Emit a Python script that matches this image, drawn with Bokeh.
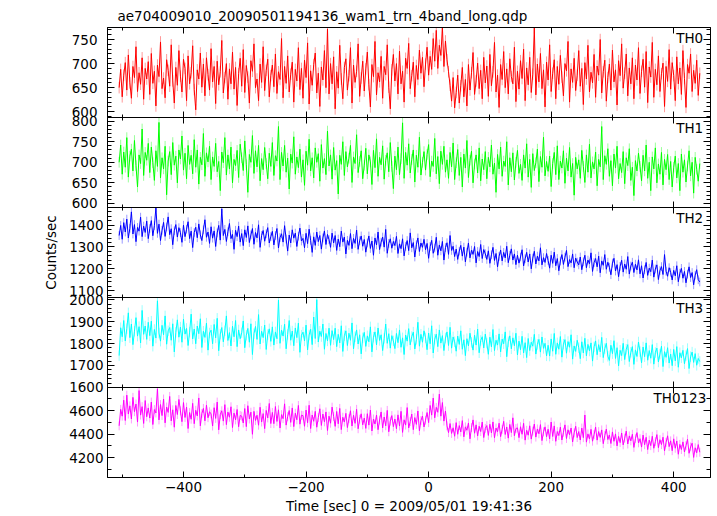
import numpy as np
from bokeh.plotting import figure
from bokeh.layouts import column
from bokeh.models import LinearAxis, Range1d, Label, FixedTicker, CustomLabelingPolicy
from bokeh.embed import file_html
from bokeh.resources import INLINE

# ---- data (2.5 s bins starting at -505 s) ----
time_start = -505
time_step = 2.5

th0 = [650, 688, 631, 676, 702, 645, 718, 660, 628, 694, 671, 735, 642, 681, 657, 712, 626, 690, 668, 704,
       636, 721, 659, 684, 612, 697, 673, 745, 648, 670, 629, 708, 686, 653, 739, 664, 618, 692, 655, 727,
       674, 641, 709, 690, 623, 716, 658, 681, 737, 646, 604, 687, 668, 722, 651, 699, 633, 712, 677, 645,
       731, 662, 694, 617, 705, 656, 683, 748, 639, 671, 700, 626, 689, 658, 724, 647, 692, 613, 679, 711,
       653, 729, 640, 696, 672, 618, 706, 684, 741, 650, 668, 623, 699, 661, 735, 644, 686, 709, 631, 675,
       697, 652, 720, 638, 683, 667, 752, 629, 694, 659, 716, 641, 678, 703, 620, 688, 664, 733, 646, 690,
       628, 707, 671, 743, 616, 685, 655, 698, 722, 639, 680, 611, 693, 666, 727, 650, 772, 637, 700, 658,
       714, 606, 683, 649, 738, 668, 627, 692, 710, 645, 675, 733, 618, 697, 661, 684, 741, 632, 670, 705,
       643, 689, 724, 656, 610, 698, 673, 746, 635, 681, 662, 715, 628, 694, 677, 739, 651, 606, 687, 719,
       664, 700, 637, 726, 658, 684, 620, 711, 690, 742, 648, 675, 703, 631, 696, 667, 728, 680, 713, 652,
       699, 734, 676, 715, 688, 752, 705, 769, 690, 738, 717, 776, 694, 747, 708, 683, 655, 622, 671, 608,
       640, 676, 618, 654, 692, 631, 667, 612, 698, 645, 681, 723, 636, 664, 701, 648, 686, 627, 713, 660,
       695, 632, 719, 654, 683, 744, 641, 676, 609, 698, 667, 725, 650, 689, 637, 710, 673, 658, 734, 621,
       684, 647, 706, 669, 730, 623, 691, 656, 713, 640, 678, 774, 635, 699, 662, 721, 648, 687, 610, 703,
       666, 739, 642, 680, 708, 627, 694, 657, 717, 672, 633, 700, 685, 746, 620, 689, 661, 711, 644, 676,
       727, 653, 690, 615, 702, 668, 738, 641, 682, 660, 719, 630, 695, 676, 750, 639, 683, 707, 622, 671,
       699, 645, 728, 662, 687, 614, 706, 675, 741, 649, 680, 720, 633, 691, 658, 712, 627, 697, 666, 733,
       638, 684, 709, 651, 725, 619, 693, 672, 744, 630, 688, 656, 716, 642, 679, 701, 611, 694, 663, 729,
       647, 702, 675, 623, 714, 658, 691, 636, 727, 669, 609, 698, 680, 720, 642, 686, 659, 707, 634, 680]

th1 = [700, 742, 671, 725, 688, 760, 664, 715, 732, 679, 753, 692, 640, 718, 697, 781, 668, 724, 705, 746,
       675, 737, 699, 656, 728, 690, 797, 662, 711, 684, 739, 621, 703, 726, 670, 748, 693, 715, 650, 730,
       708, 764, 681, 722, 660, 741, 695, 717, 672, 755, 688, 730, 647, 712, 694, 770, 666, 723, 701, 739,
       658, 713, 690, 746, 677, 702, 631, 725, 699, 760, 669, 718, 684, 737, 650, 707, 692, 729, 663, 744,
       711, 680, 752, 694, 627, 719, 700, 765, 673, 728, 689, 741, 655, 709, 682, 736, 697, 660, 722, 690,
       748, 668, 716, 703, 787, 658, 724, 691, 741, 676, 710, 635, 720, 698, 762, 671, 713, 687, 732, 664,
       706, 644, 727, 693, 756, 679, 711, 662, 735, 700, 721, 654, 743, 686, 709, 670, 776, 691, 718, 659,
       736, 681, 704, 623, 717, 695, 750, 668, 726, 689, 710, 741, 651, 713, 697, 767, 675, 702, 728, 660,
       693, 734, 672, 718, 701, 646, 729, 687, 757, 666, 712, 694, 740, 659, 705, 723, 677, 748, 690, 636,
       715, 682, 737, 670, 709, 796, 661, 724, 693, 745, 674, 707, 730, 652, 717, 688, 761, 669, 700, 726,
       681, 719, 743, 665, 703, 690, 758, 672, 714, 648, 727, 695, 739, 676, 706, 661, 724, 689, 747, 658,
       699, 731, 668, 712, 640, 720, 686, 753, 663, 705, 727, 650, 696, 718, 674, 735, 655, 708, 682, 726,
       660, 712, 689, 742, 671, 698, 627, 719, 684, 737, 666, 703, 690, 750, 645, 711, 677, 723, 657, 700,
       729, 673, 695, 656, 718, 686, 745, 664, 707, 639, 721, 680, 699, 732, 653, 714, 688, 761, 667, 702,
       678, 715, 641, 697, 724, 670, 740, 658, 703, 686, 728, 649, 710, 679, 736, 664, 697, 620, 712, 684,
       706, 661, 729, 690, 651, 718, 676, 744, 662, 701, 684, 725, 643, 707, 689, 787, 658, 716, 695, 733,
       666, 704, 643, 720, 686, 739, 660, 697, 675, 726, 648, 711, 692, 733, 656, 688, 619, 704, 679, 722,
       690, 655, 717, 679, 742, 661, 700, 631, 713, 684, 735, 650, 696, 671, 724, 645, 707, 682, 719, 658,
       702, 640, 688, 715, 662, 697, 631, 720, 676, 706, 652, 691, 728, 667, 700, 625, 712, 683, 654, 697]

th2 = [1352, 1398, 1335, 1411, 1368, 1427, 1341, 1385, 1460, 1359, 1402, 1324, 1389, 1372, 1436, 1347, 1395, 1366, 1418, 1338,
       1384, 1420, 1351, 1397, 1479, 1362, 1404, 1329, 1376, 1412, 1348, 1391, 1437, 1356, 1383, 1310, 1374, 1402, 1345, 1388,
       1365, 1321, 1399, 1347, 1381, 1415, 1338, 1372, 1297, 1366, 1390, 1342, 1405, 1355, 1329, 1378, 1424, 1344, 1368, 1316,
       1392, 1340, 1373, 1302, 1364, 1398, 1331, 1474, 1352, 1380, 1325, 1369, 1407, 1338, 1357, 1289, 1376, 1347, 1395, 1322,
       1361, 1306, 1378, 1343, 1396, 1320, 1355, 1384, 1312, 1366, 1341, 1401, 1298, 1352, 1375, 1326, 1360, 1388, 1318, 1347,
       1371, 1309, 1352, 1384, 1295, 1343, 1360, 1322, 1397, 1336, 1281, 1354, 1318, 1378, 1340, 1363, 1302, 1349, 1386, 1327,
       1339, 1296, 1362, 1315, 1381, 1330, 1275, 1346, 1307, 1368, 1324, 1352, 1290, 1341, 1373, 1311, 1357, 1333, 1298, 1363,
       1318, 1352, 1284, 1336, 1301, 1372, 1322, 1345, 1268, 1330, 1307, 1361, 1292, 1339, 1316, 1377, 1289, 1328, 1350, 1303,
       1334, 1276, 1318, 1350, 1293, 1327, 1262, 1341, 1309, 1368, 1288, 1322, 1345, 1299, 1380, 1271, 1316, 1337, 1294, 1325,
       1306, 1348, 1270, 1314, 1292, 1337, 1259, 1302, 1329, 1283, 1364, 1296, 1320, 1254, 1310, 1341, 1279, 1318, 1298, 1335,
       1287, 1316, 1248, 1302, 1330, 1271, 1295, 1344, 1262, 1309, 1282, 1325, 1240, 1297, 1319, 1266, 1352, 1284, 1303, 1256,
       1290, 1243, 1281, 1307, 1258, 1299, 1232, 1276, 1318, 1250, 1285, 1266, 1302, 1227, 1279, 1256, 1311, 1247, 1288, 1269,
       1243, 1282, 1225, 1264, 1298, 1238, 1270, 1209, 1257, 1286, 1236, 1275, 1250, 1303, 1228, 1262, 1291, 1240, 1268, 1219,
       1262, 1226, 1254, 1287, 1213, 1246, 1275, 1231, 1268, 1200, 1249, 1280, 1222, 1258, 1236, 1296, 1218, 1251, 1229, 1270,
       1238, 1203, 1262, 1225, 1276, 1214, 1247, 1191, 1236, 1265, 1220, 1253, 1284, 1210, 1242, 1227, 1268, 1205, 1249, 1231,
       1218, 1254, 1196, 1232, 1262, 1205, 1240, 1223, 1273, 1188, 1229, 1247, 1209, 1258, 1182, 1236, 1216, 1265, 1198, 1230,
       1207, 1173, 1226, 1248, 1190, 1219, 1164, 1211, 1239, 1185, 1222, 1198, 1256, 1176, 1213, 1230, 1183, 1221, 1195, 1241,
       1177, 1214, 1158, 1196, 1229, 1170, 1203, 1187, 1240, 1162, 1199, 1218, 1151, 1192, 1210, 1174, 1265, 1189, 1166, 1205,
       1184, 1149, 1193, 1168, 1214, 1141, 1180, 1202, 1157, 1188, 1136, 1176, 1209, 1160, 1183, 1127, 1171, 1196, 1150, 1140]

th3 = [1745, 1872, 1831, 1905, 1812, 1868, 1940, 1827, 1889, 1795, 1856, 1918, 1834, 1877, 1803, 1951, 1842, 1880, 1819, 1897,
       1836, 1902, 1788, 1864, 1825, 1995, 1848, 1811, 1883, 1840, 1926, 1797, 1858, 1873, 1815, 1890, 1762, 1851, 1908, 1829,
       1875, 1806, 1911, 1843, 1869, 1791, 1852, 1934, 1821, 1866, 1799, 1880, 1845, 1913, 1782, 1856, 1828, 1893, 1770, 1848,
       1861, 1799, 1887, 1826, 1915, 1767, 1843, 1873, 1808, 1858, 1926, 1814, 1850, 1789, 1879, 1831, 1905, 1786, 1862, 1822,
       1849, 1903, 1781, 1838, 1869, 1806, 1890, 1750, 1845, 1878, 1819, 1932, 1798, 1856, 1827, 1884, 1773, 1841, 1867, 1810,
       1876, 1793, 1853, 1822, 1998, 1801, 1861, 1834, 1888, 1776, 1842, 1905, 1815, 1857, 1790, 1871, 1827, 1893, 1760, 1838,
       1852, 1812, 1884, 1771, 1839, 1865, 1795, 1921, 1823, 2000, 1807, 1856, 1832, 1889, 1774, 1846, 1812, 1870, 1792, 1859,
       1818, 1870, 1786, 1842, 1803, 1881, 1764, 1836, 1858, 1791, 1847, 1815, 1894, 1776, 1831, 1862, 1798, 1840, 1753, 1826,
       1851, 1787, 1835, 1808, 1876, 1762, 1829, 1853, 1794, 1871, 1814, 1840, 1768, 1824, 1889, 1801, 1845, 1779, 1836, 1812,
       1777, 1846, 1804, 1862, 1783, 1826, 1750, 1839, 1811, 1868, 1794, 1832, 1852, 1775, 1819, 1897, 1788, 1842, 1806, 1858,
       1826, 1772, 1848, 1799, 1881, 1757, 1820, 1843, 1786, 1862, 1802, 1836, 1768, 1825, 1853, 1791, 1874, 1779, 1830, 1808,
       1765, 1834, 1796, 1858, 1774, 1817, 1745, 1822, 1789, 1847, 1805, 1770, 1838, 1793, 1866, 1758, 1814, 1831, 1780, 1843,
       1802, 1751, 1829, 1785, 1864, 1768, 1815, 1793, 1844, 1762, 1820, 1799, 1853, 1740, 1808, 1835, 1776, 1826, 1790, 1847,
       1748, 1811, 1772, 1833, 1757, 1804, 1736, 1823, 1768, 1806, 1788, 1842, 1752, 1796, 1819, 1761, 1830, 1778, 1801, 1744,
       1792, 1743, 1821, 1765, 1846, 1751, 1803, 1774, 1832, 1738, 1797, 1818, 1756, 1809, 1783, 1840, 1729, 1789, 1764, 1815,
       1781, 1731, 1808, 1757, 1824, 1744, 1796, 1766, 1803, 1720, 1785, 1812, 1749, 1795, 1762, 1828, 1736, 1777, 1801, 1742,
       1723, 1792, 1754, 1813, 1732, 1781, 1698, 1769, 1745, 1801, 1727, 1774, 1795, 1718, 1760, 1786, 1705, 1771, 1741, 1807,
       1763, 1712, 1784, 1740, 1803, 1724, 1768, 1733, 1795, 1706, 1759, 1779, 1716, 1752, 1788, 1695, 1763, 1737, 1781, 1711,
       1752, 1699, 1773, 1721, 1786, 1692, 1758, 1735, 1769, 1708, 1745, 1777, 1686, 1740, 1761, 1714, 1754, 1701, 1732, 1718]

th0123 = [4470, 4610, 4552, 4688, 4515, 4731, 4570, 4640, 4528, 4712, 4590, 4655, 4502, 4770, 4561, 4633, 4490, 4685, 4547, 4622,
          4536, 4672, 4481, 4608, 4579, 4785, 4520, 4651, 4557, 4698, 4495, 4630, 4584, 4720, 4512, 4606, 4458, 4643, 4566, 4694,
          4597, 4505, 4668, 4541, 4629, 4447, 4583, 4526, 4661, 4488, 4602, 4554, 4707, 4470, 4575, 4618, 4512, 4646, 4539, 4590,
          4571, 4468, 4624, 4533, 4672, 4436, 4565, 4598, 4510, 4650, 4480, 4587, 4543, 4632, 4455, 4578, 4520, 4609, 4462, 4558,
          4552, 4494, 4617, 4463, 4641, 4528, 4586, 4398, 4593, 4515, 4560, 4475, 4628, 4502, 4574, 4446, 4601, 4537, 4660, 4489,
          4584, 4488, 4634, 4507, 4606, 4451, 4565, 4531, 4657, 4476, 4548, 4600, 4499, 4622, 4463, 4577, 4521, 4643, 4484, 4560,
          4557, 4466, 4604, 4496, 4645, 4447, 4562, 4508, 4593, 4458, 4540, 4615, 4473, 4570, 4504, 4588, 4430, 4552, 4492, 4629,
          4549, 4465, 4592, 4487, 4618, 4438, 4543, 4502, 4576, 4455, 4531, 4598, 4468, 4560, 4491, 4610, 4445, 4526, 4572, 4478,
          4536, 4448, 4573, 4476, 4604, 4426, 4528, 4485, 4562, 4437, 4519, 4588, 4452, 4545, 4470, 4601, 4419, 4510, 4557, 4463,
          4528, 4445, 4563, 4468, 4593, 4414, 4521, 4476, 4625, 4452, 4506, 4570, 4437, 4540, 4482, 4596, 4428, 4515, 4553, 4460,
          4518, 4583, 4497, 4643, 4561, 4706, 4538, 4627, 4585, 4740, 4552, 4668, 4510, 4596, 4470, 4412, 4489, 4405, 4453, 4381,
          4497, 4398, 4472, 4418, 4514, 4376, 4461, 4432, 4494, 4359, 4455, 4520, 4407, 4478, 4384, 4466, 4421, 4502, 4370, 4448,
          4472, 4388, 4483, 4409, 4503, 4368, 4451, 4419, 4492, 4378, 4440, 4508, 4396, 4460, 4365, 4482, 4412, 4538, 4386, 4447,
          4452, 4369, 4462, 4398, 4491, 4348, 4432, 4390, 4470, 4357, 4425, 4485, 4374, 4443, 4402, 4480, 4344, 4419, 4461, 4377,
          4441, 4358, 4502, 4379, 4469, 4338, 4421, 4387, 4459, 4349, 4415, 4478, 4362, 4436, 4394, 4451, 4333, 4410, 4466, 4370,
          4421, 4349, 4451, 4369, 4562, 4331, 4401, 4358, 4440, 4339, 4395, 4460, 4348, 4421, 4371, 4435, 4318, 4387, 4442, 4353,
          4392, 4319, 4418, 4338, 4401, 4299, 4380, 4327, 4409, 4308, 4365, 4425, 4315, 4384, 4342, 4398, 4286, 4361, 4412, 4325,
          4360, 4289, 4391, 4309, 4372, 4268, 4348, 4301, 4381, 4279, 4335, 4395, 4284, 4352, 4310, 4373, 4257, 4329, 4385, 4293,
          4342, 4258, 4359, 4279, 4341, 4228, 4312, 4268, 4333, 4247, 4301, 4356, 4236, 4290, 4322, 4201, 4283, 4240, 4310, 4245]

series = [th0, th1, th2, th3, th0123]
band_names = ["TH0", "TH1", "TH2", "TH3", "TH0123"]
band_errors = [12, 13, 20, 24, 38]
colors = ["#ff0000", "#00ff00", "#0000ff", "#00ffff", "#ff00ff"]
y_limits = [(588, 775), (590, 809), (1069, 1480), (1599.5, 2010), (4030, 4796)]
y_major_step = [50, 50, 100, 100, 200]
y_minor_step = [10, 10, 20, 20, 100]
x_limits = (-524, 460)
x_major = [-400, -200, 0, 200, 400]
x_minor = [-500, -300, -100, 100, 300]

title_text = "ae704009010_20090501194136_wam1_trn_4band_long.qdp"
x_title = "Time [sec] 0 = 2009/05/01 19:41:36"
y_title = "Counts/sec"

FONT = "DejaVu Sans"
FS = "13.5px"
PAD = 9  # extra room above/below each frame so edge tick labels are not clipped

t = time_start + time_step * np.arange(len(th0))
x_range = Range1d(*x_limits)
xticker = FixedTicker(ticks=x_major, minor_ticks=x_minor)
no_labels = CustomLabelingPolicy(code="for (const i of indices) { indices.unset(i) }\nreturn indices")


def style_axis(ax, tick_in, minor_in, labels):
    ax.axis_line_color = "black"
    ax.major_tick_line_color = "black"
    ax.minor_tick_line_color = "black"
    ax.major_tick_in = tick_in
    ax.major_tick_out = 0
    ax.minor_tick_in = minor_in
    ax.minor_tick_out = 0
    ax.major_label_text_font = FONT
    ax.major_label_text_color = "black"
    ax.axis_label_text_color = "black"
    if labels:
        ax.major_label_text_font_size = FS
    else:
        ax.major_label_text_font_size = "0px"
        ax.major_label_policy = no_labels
        ax.major_label_standoff = 0


figs = []
n = len(series)
for i in range(n):
    lo, hi = y_limits[i]
    first = i == 0
    last = i == n - 1
    p = figure(frame_width=603, frame_height=90, x_range=x_range,
               y_range=Range1d(lo, hi), output_backend="svg",
               toolbar_location=None, min_border_left=107, min_border_right=2,
               min_border_top=27 if first else PAD,
               min_border_bottom=0 if last else PAD,
               background_fill_color="white", border_fill_color=None,
               outline_line_color="black", outline_line_width=1,
               styles={} if first else {"margin-top": "-%dpx" % (2 * PAD)})
    p.grid.visible = False

    ymaj = list(np.arange(np.ceil(lo / y_major_step[i]) * y_major_step[i], hi + 1e-9, y_major_step[i]))
    ymin = list(np.arange(np.ceil(lo / y_minor_step[i]) * y_minor_step[i], hi + 1e-9, y_minor_step[i]))
    yticker = FixedTicker(ticks=ymaj, minor_ticks=ymin)

    xa = p.xaxis[0]
    xa.ticker = xticker
    style_axis(xa, 6, 3, last)
    if last:
        xa.major_label_standoff = 4
        xa.major_label_overrides = {-400: "\u2212400", -200: "\u2212200"}
        xa.axis_label = x_title
        xa.axis_label_text_font = FONT
        xa.axis_label_text_font_size = FS
        xa.axis_label_text_font_style = "normal"
        xa.axis_label_standoff = 3

    ya = p.yaxis[0]
    ya.ticker = yticker
    style_axis(ya, 7, 4, True)
    ya.major_label_standoff = 10 if hi < 1000 else 4
    if i == 2:
        ya.axis_label = y_title
        ya.axis_label_text_font = FONT
        ya.axis_label_text_font_size = FS
        ya.axis_label_text_font_style = "normal"
        ya.axis_label_standoff = 7

    top = LinearAxis(ticker=xticker)
    style_axis(top, 6, 3, False)
    p.add_layout(top, "above")
    right = LinearAxis(ticker=yticker)
    style_axis(right, 7, 4, False)
    p.add_layout(right, "right")

    vals = np.array(series[i], dtype=float)
    err = band_errors[i]
    p.segment(x0=t, y0=vals - err, x1=t, y1=vals + err,
              line_color=colors[i], line_alpha=0.4, line_width=1)
    p.line(t, vals, line_color=colors[i], line_width=1)

    lab_x = 367 if len(band_names[i]) > 3 else 404
    p.add_layout(Label(x=lab_x, y=hi, text=band_names[i], text_align="left",
                       text_baseline="middle", y_offset=-10,
                       text_font=FONT, text_font_size=FS, text_color="black"))

    if first:
        p.title.text = title_text
        p.title.text_font = FONT
        p.title.text_font_size = FS
        p.title.text_font_style = "normal"
        p.title.text_color = "black"
        p.title.align = "left"
        p.title.standoff = 8
        p.title.offset = 10
    figs.append(p)

layout = column(*figs, spacing=0)
open("out.html", "w").write(file_html(layout, INLINE))
